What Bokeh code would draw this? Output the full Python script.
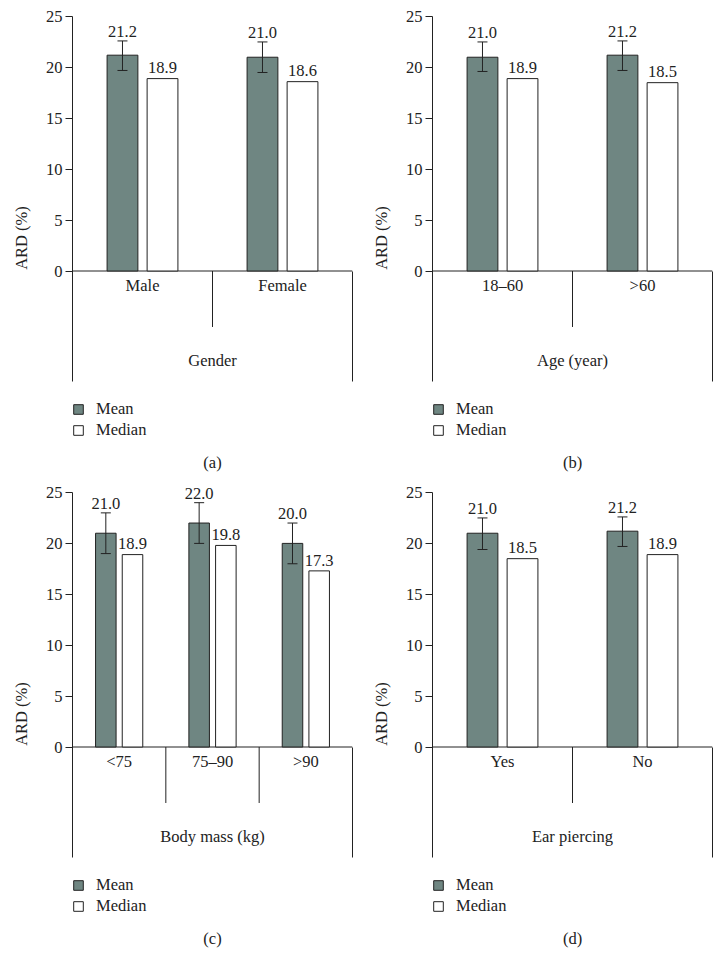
from bokeh.plotting import figure
from bokeh.models import (ColumnDataSource, FactorRange, Range1d, FixedTicker, Whisker,
                          TeeHead, Legend, LegendItem, LinearAxis)
from bokeh.transform import dodge
from bokeh.layouts import column, row
from bokeh.core.properties import value
from bokeh.embed import file_html
from bokeh.resources import INLINE

FONT = "Liberation Serif"
FS = "16.5px"
MEAN_COLOR = "#6f8682"
LINE = "#222222"

# ---------------- data ----------------
y_ticks = [0, 5, 10, 15, 20, 25]
series_names = ["Mean", "Median"]

a_cats = ["Male", "Female"]
a_mean = [21.2, 21.0]
a_median = [18.9, 18.6]
a_lower = [19.7, 19.5]
a_upper = [22.6, 22.5]

b_cats = ["18\u201360", ">60"]
b_mean = [21.0, 21.2]
b_median = [18.9, 18.5]
b_lower = [19.6, 19.7]
b_upper = [22.5, 22.6]

c_cats = ["<75", "75\u201390", ">90"]
c_mean = [21.0, 22.0, 20.0]
c_median = [18.9, 19.8, 17.3]
c_lower = [19.0, 20.0, 18.0]
c_upper = [23.0, 24.0, 22.0]

d_cats = ["Yes", "No"]
d_mean = [21.0, 21.2]
d_median = [18.5, 18.9]
d_lower = [19.4, 19.7]
d_upper = [22.5, 22.6]

group_labels = ["Gender", "Age (year)", "Body mass (kg)", "Ear piercing"]
captions = ["(a)", "(b)", "(c)", "(d)"]

# ---------------- layout constants ----------------
PPU = 10.18
TOP_PAD_PX = 16
FRAME_H = 459 + TOP_PAD_PX
Y_MAX = 25
Y_TOP = Y_MAX + TOP_PAD_PX / PPU
Y_BOTTOM = Y_TOP - FRAME_H / PPU
CAT_LABEL_Y = -1.4
DIV_BOTTOM = -5.5
GROUP_LABEL_Y = -8.84
OUTER_BOTTOM = -10.85
CAPTION_Y = -18.8
MEAN_LABEL_GAP = 0.95
MEDIAN_LABEL_GAP = 1.05
BAR_W = 0.22
OFF = 0.143


def panel(cats, mean, median, lower, upper, group_label, caption, width, right_border):
    n = len(cats)
    src = ColumnDataSource(dict(
        cat=cats, mean=mean, median=median, lower=lower, upper=upper,
        mean_txt=[f"{v:.1f}" for v in mean],
        median_txt=[f"{v:.1f}" for v in median],
        mean_lbl_y=[u + MEAN_LABEL_GAP for u in upper],
        median_lbl_y=[m + MEDIAN_LABEL_GAP for m in median],
    ))
    p = figure(x_range=FactorRange(factors=cats), y_range=Range1d(Y_BOTTOM, Y_TOP),
               width=width, height=476, output_backend="svg", toolbar_location=None,
               x_axis_location=None, min_border_left=72, min_border_right=right_border,
               min_border_top=0, min_border_bottom=1)
    p.grid.visible = False
    p.outline_line_color = None
    p.background_fill_color = "white"

    ax = p.yaxis[0]
    ax.ticker = FixedTicker(ticks=y_ticks)
    ax.bounds = (OUTER_BOTTOM, Y_MAX)
    ax.axis_label = "ARD (%)"
    ax.axis_label_text_font = FONT
    ax.axis_label_text_font_size = FS
    ax.axis_label_text_font_style = "normal"
    ax.axis_label_text_color = LINE
    ax.axis_label_standoff = 12
    ax.major_label_text_font = FONT
    ax.major_label_text_font_size = FS
    ax.major_label_text_color = LINE
    ax.major_label_standoff = 3
    ax.major_tick_out = 7
    ax.major_tick_in = 0
    ax.minor_tick_line_color = None
    ax.axis_line_color = LINE
    ax.major_tick_line_color = LINE

    # right outer line
    rax = LinearAxis(bounds=(OUTER_BOTTOM, 0), ticker=FixedTicker(ticks=[]),
                     axis_line_color=LINE, major_tick_line_color=None,
                     minor_tick_line_color=None, major_label_text_font_size="0px")
    p.add_layout(rax, "right")

    # baseline, separators
    p.segment(x0=[0], y0=[0], x1=[n], y1=[0], line_color=LINE, line_width=1)
    seps = list(range(1, n))
    if seps:
        p.segment(x0=seps, y0=[0] * len(seps), x1=seps, y1=[DIV_BOTTOM] * len(seps),
                  line_color=LINE, line_width=1)

    r_mean = p.vbar(x=dodge("cat", -OFF, range=p.x_range), top="mean", bottom=0, width=BAR_W,
                    source=src, fill_color=MEAN_COLOR, line_color=LINE, line_width=1)
    r_med = p.vbar(x=dodge("cat", OFF, range=p.x_range), top="median", bottom=0, width=BAR_W,
                   source=src, fill_color="white", line_color=LINE, line_width=1)

    wh = Whisker(base=dodge("cat", -OFF, range=p.x_range), upper="upper", lower="lower",
                 source=src, line_color=LINE, line_width=1, level="overlay",
                 upper_head=TeeHead(size=10, line_color=LINE, line_width=1),
                 lower_head=TeeHead(size=10, line_color=LINE, line_width=1))
    p.add_layout(wh)

    p.text(x=dodge("cat", -OFF, range=p.x_range), y="mean_lbl_y", text="mean_txt", source=src,
           text_font=value(FONT), text_font_size=FS, text_color=LINE,
           text_align="center", text_baseline="middle")
    p.text(x=dodge("cat", OFF, range=p.x_range), y="median_lbl_y", text="median_txt", source=src,
           text_font=value(FONT), text_font_size=FS, text_color=LINE,
           text_align="center", text_baseline="middle")

    # category labels
    p.text(x="cat", y=CAT_LABEL_Y, text="cat", source=src,
           text_font=value(FONT), text_font_size=FS, text_color=LINE,
           text_align="center", text_baseline="middle")
    # group label and caption
    p.text(x=[n / 2], y=[GROUP_LABEL_Y], text=[group_label],
           text_font=value(FONT), text_font_size=FS, text_color=LINE,
           text_align="center", text_baseline="middle")
    p.text(x=[n / 2], y=[CAPTION_Y], text=[caption],
           text_font=value(FONT), text_font_size=FS, text_color=LINE,
           text_align="center", text_baseline="middle")

    leg = Legend(items=[LegendItem(label=series_names[0], renderers=[r_mean]),
                        LegendItem(label=series_names[1], renderers=[r_med])],
                 location=(0, 35), glyph_width=12, glyph_height=12, label_standoff=12,
                 spacing=1, padding=0, margin=0, border_line_color=None,
                 background_fill_alpha=0, label_text_font=FONT, label_text_font_size=FS,
                 label_text_color=LINE, label_height=19)
    p.add_layout(leg, "center")
    return p


pa = panel(a_cats, a_mean, a_median, a_lower, a_upper, group_labels[0], captions[0], 360, 8)
pb = panel(b_cats, b_mean, b_median, b_lower, b_upper, group_labels[1], captions[1], 362, 10)
pc = panel(c_cats, c_mean, c_median, c_lower, c_upper, group_labels[2], captions[2], 360, 8)
pd_ = panel(d_cats, d_mean, d_median, d_lower, d_upper, group_labels[3], captions[3], 362, 10)

layout = column(row(pa, pb), row(pc, pd_))
open("out.html", "w").write(file_html(layout, INLINE))
